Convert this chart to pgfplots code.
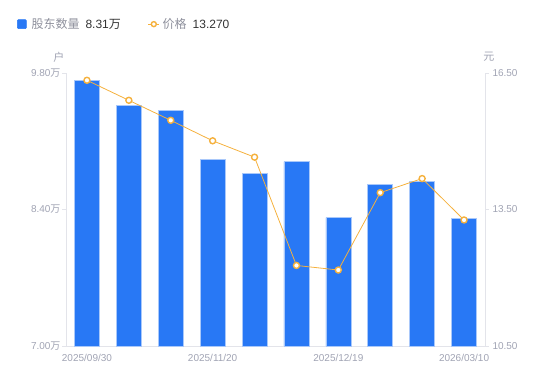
\documentclass[border=0pt]{standalone}
\usepackage{pgfplots}
\pgfplotsset{compat=1.18}
\usepackage{fontspec}
\setmainfont{Liberation Sans}
\newfontfamily\cjk{Noto Sans CJK SC}
\definecolor{barblue}{HTML}{2878F5}
\definecolor{baredge}{HTML}{A9C8FA}
\definecolor{lineor}{HTML}{F5B13D}
\definecolor{ticklab}{HTML}{A0A3B3}
\definecolor{axline}{HTML}{E3E4EA}
\definecolor{legtxt}{HTML}{8E909C}
\definecolor{valtxt}{HTML}{333333}
\pgfplotstableread{
x holders price
0 9.725 16.34
1 9.465 15.90
2 9.413 15.46
3 8.915 15.01
4 8.771 14.65
5 8.890 12.27
6 8.316 12.17
7 8.660 13.87
8 8.689 14.18
9 8.310 13.27
}\datatable
\begin{document}
\begin{tikzpicture}
\path[use as bounding box] (0,0) rectangle (550bp,381bp);
\begin{axis}[
  at={(66bp,35bp)}, anchor=south west,
  scale only axis, width=419bp, height=273bp,
  xmin=-0.5, xmax=9.5, ymin=7, ymax=9.8,
  axis x line*=bottom, axis y line*=left,
  axis line style={draw=axline, line width=0.8pt},
  xtick={0,3,6,9},
  xticklabels={2025/09/30,2025/11/20,2025/12/19,2026/03/10},
  x tick style={draw=none},
  ytick={7,8.4,9.8},
  yticklabels={7.00{\cjk 万},8.40{\cjk 万},9.80{\cjk 万}},
  y tick style={draw=axline, line width=0.8pt},
  tick align=outside, major tick length=4bp,
  ticklabel style={font=\fontsize{10bp}{12bp}\selectfont, text=ticklab},
  xticklabel style={yshift=-1bp},
  yticklabel style={xshift=2bp},
  every axis y label/.style={at={(axis description cs:-0.017,1.0586)}, anchor=center},
  ylabel={\cjk 户},
  ylabel style={font=\cjk\fontsize{11bp}{13bp}\selectfont, text=ticklab},
  clip=false,
]
\addplot[ybar, bar width=25bp, bar shift=0pt, fill=barblue, draw=baredge, line width=0.6pt] table[x=x, y=holders] {\datatable};
\end{axis}
\begin{axis}[
  at={(66bp,35bp)}, anchor=south west,
  scale only axis, width=419bp, height=273bp,
  xmin=-0.5, xmax=9.5, ymin=10.5, ymax=16.5,
  axis x line=none, axis y line*=right,
  axis line style={draw=axline, line width=0.8pt},
  ytick={10.5,13.5,16.5},
  yticklabels={10.50,13.50,16.50},
  y tick style={draw=axline, line width=0.8pt},
  tick align=outside, major tick length=4bp,
  ticklabel style={font=\fontsize{10bp}{12bp}\selectfont, text=ticklab},
  yticklabel style={xshift=0bp},
  every axis y label/.style={at={(axis description cs:1.0095,1.0586)}, anchor=center},
  ylabel={\cjk 元},
  ylabel style={font=\cjk\fontsize{11bp}{13bp}\selectfont, text=ticklab},
  clip=false,
  legend style={at={(axis description cs:-0.117,1.179)}, anchor=west, draw=none, fill=none,
    inner sep=0pt, font=\fontsize{12bp}{14bp}\selectfont,
    legend columns=-1,
    /tikz/every even column/.append style={column sep=25bp}},
  legend cell align=left,
]
\addlegendimage{legend image code/.code={\fill[barblue, rounded corners=1bp] (0bp,-4.5bp) rectangle (9bp,4.5bp);}}
\addlegendentry{\hspace{3bp}\textcolor{legtxt}{\cjk 股东数量}\hspace{6bp}\textcolor{valtxt}{8.31\cjk 万}}
\addplot[color=lineor, line width=0.8pt, mark=*, mark size=3bp,
  mark options={fill=white, draw=lineor, line width=1.4pt},
  legend image code/.code={\draw[lineor, line width=0.8pt] (0bp,0bp) -- (11bp,0bp); \draw[lineor, fill=white, line width=1.4pt] (5.5bp,0bp) circle (2.5bp);}
] table[x=x, y=price] {\datatable};
\addlegendentry{\hspace{1bp}\textcolor{legtxt}{\cjk 价格}\hspace{6bp}\textcolor{valtxt}{13.270}}
\end{axis}
\end{tikzpicture}
\end{document}
